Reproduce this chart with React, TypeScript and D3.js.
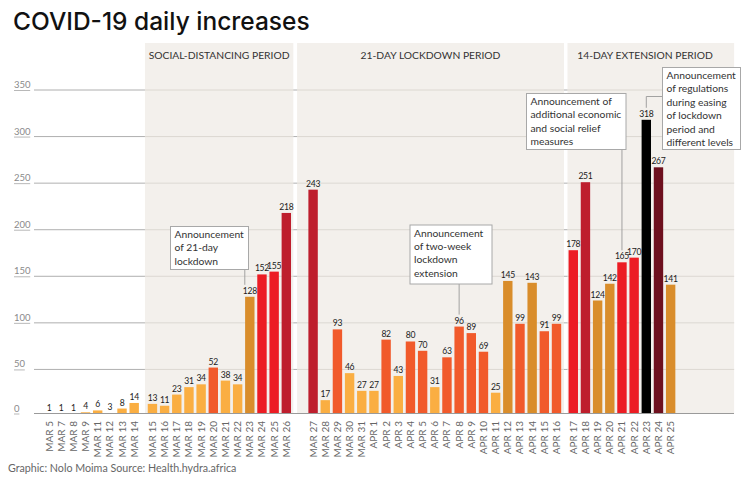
import React from "react";
import * as d3 from "d3";

// ---------- DATA ----------
const dates = [
  "MAR 5", "MAR 7", "MAR 8", "MAR 9", "MAR 11", "MAR 12", "MAR 13", "MAR 14",
  "MAR 15", "MAR 16", "MAR 17", "MAR 18", "MAR 19", "MAR 20", "MAR 21", "MAR 22", "MAR 23", "MAR 24", "MAR 25", "MAR 26",
  "MAR 27", "MAR 28", "MAR 29", "MAR 30", "MAR 31", "APR 1", "APR 2", "APR 3", "APR 4", "APR 5", "APR 6", "APR 7", "APR 8",
  "APR 9", "APR 10", "APR 11", "APR 12", "APR 13", "APR 14", "APR 15", "APR 16",
  "APR 17", "APR 18", "APR 19", "APR 20", "APR 21", "APR 22", "APR 23", "APR 24", "APR 25",
];
const increases = [
  1, 1, 1, 4, 6, 3, 8, 14,
  13, 11, 23, 31, 34, 52, 38, 34, 128, 152, 155, 218,
  243, 17, 93, 46, 27, 27, 82, 43, 80, 70, 31, 63, 96, 89, 69, 25, 145, 99, 143, 91, 99,
  178, 251, 124, 142, 165, 170, 318, 267, 141,
];
const periodNames = ["SOCIAL-DISTANCING PERIOD", "21-DAY LOCKDOWN PERIOD", "14-DAY EXTENSION PERIOD"];
const periodFirst = ["MAR 15", "MAR 27", "APR 17"];
const periodLast = ["MAR 26", "APR 16", "APR 25"];
const yTicks = [0, 50, 100, 150, 200, 250, 300, 350];
const colorBreaks = [50, 100, 150, 200, 260, 300];
const annotationDates = ["MAR 23", "APR 8", "APR 21", "APR 23"];
const annotationLines = [
  ["Announcement", "of 21-day", "lockdown"],
  ["Announcement", "of two-week", "lockdown", "extension"],
  ["Announcement of", "additional economic", "and social relief", "measures"],
  ["Announcement", "of regulations", "during easing", "of lockdown", "period and", "different levels"],
];
const title = "COVID-19 daily increases";
const footer = "Graphic: Nolo Moima Source: Health.hydra.africa";

// ---------- LAYOUT / STYLE ----------
const W = 750, H = 482;
const FONT = "Lato, 'Noto Sans', sans-serif";
const barColors = ["#FAAE42", "#F15A2B", "#D98D2B", "#EC1C24", "#BE1E2D", "#6E101E", "#000000"];
const groupGap = [0, 0.5, 1.7, 2.08];
const panelPad = [[7.5, 7], [16, 7.5], [5.8, 63.5]];
const panelTop = 43;
const axisY = 413.5;
const gridLeft = 34;
const gridRight = 734;
const barW = 9.4;
const annBoxes = [
  { x: 170.5, y: 226.5, w: 78, h: 43, lx: -5 },
  { x: 410, y: 225, w: 82, h: 59, lx: 0 },
  { x: 526.5, y: 93.5, w: 99.5, h: 56, lx: 0 },
  { x: 662.5, y: 67.5, w: 78, h: 82, lx: 0 },
];

export default function App() {
  const periodStartIdx = periodFirst.map((d) => dates.indexOf(d));
  const groupOf = (i: number) => periodStartIdx.filter((s) => i >= s).length;
  const slots = dates.map((_, i) => i + groupGap[groupOf(i)]);
  const maxSlot = d3.max(slots) as number;

  const x = d3.scaleLinear().domain([0, maxSlot]).range([49, 49 + maxSlot * 12.17]);
  const y = d3.scaleLinear().domain([0, 350]).range([416, 90]);
  const color = d3.scaleThreshold<number, string>().domain(colorBreaks).range(barColors);

  const xOf = (d: string) => x(slots[dates.indexOf(d)]);

  const panels = periodNames.map((name, k) => {
    const l = xOf(periodFirst[k]) - panelPad[k][0];
    const r = xOf(periodLast[k]) + panelPad[k][1];
    return { name, l, r };
  });

  const headerCx = [panels[0].l + (panels[0].r - panels[0].l) / 2, panels[1].l + (panels[1].r - panels[1].l) / 2, 645];

  return (
    <svg width={W} height={H} style={{ position: "absolute", left: 0, top: 0, background: "#fff" }} fontFamily={FONT}>
      <rect x={0} y={0} width={W} height={H} fill="#fff" />
      <text x={13} y={30} fontSize={24.5} fontWeight={500} fill="#111" fontFamily="Inter, Lato, sans-serif">{title}</text>

      {yTicks.filter((t) => t > 0).map((t) => (
        <line key={"g" + t} x1={gridLeft} x2={gridRight} y1={y(t)} y2={y(t)} stroke="#9a9a9a" strokeWidth={0.8} />
      ))}

      {panels.map((p, k) => (
        <rect key={"p" + k} x={p.l} y={panelTop} width={p.r - p.l} height={axisY - panelTop} fill="#F3F0EC" />
      ))}
      {panels.map((p, k) =>
        yTicks.filter((t) => t > 0).map((t) => (
          <line key={"pg" + k + t} x1={p.l} x2={p.r} y1={y(t)} y2={y(t)} stroke="#D6D2CC" strokeWidth={0.8} />
        ))
      )}
      {panels.map((p, k) => (
        <text key={"ph" + k} x={headerCx[k]} y={59} textAnchor="middle" fontSize={10.3} fill="#333">{p.name}</text>
      ))}

      {yTicks.map((t) => {
        const yy = t === 0 ? axisY : y(t);
        const label = String(t);
        return (
          <g key={"yt" + t}>
            <text x={14} y={yy - 2} fontSize={9.5} fill="#8a8a8a">{label}</text>
            <line x1={14} x2={14 + label.length * 5.4} y1={yy + 0.5} y2={yy + 0.5} stroke="#9a9a9a" strokeWidth={0.7} />
          </g>
        );
      })}

      {increases.map((v, i) => {
        const cx = x(slots[i]);
        const top = Math.min(y(v), axisY);
        return (
          <g key={"b" + i}>
            <rect x={cx - barW / 2} y={top} width={barW} height={axisY - top} fill={color(v)} />
            <text x={cx} y={top - 3} textAnchor="middle" fontSize={8.6} letterSpacing={-0.3} fill="#1a1a1a">{v}</text>
          </g>
        );
      })}

      <line x1={gridLeft} x2={gridRight} y1={axisY} y2={axisY} stroke="#9a9a9a" strokeWidth={1} />

      {dates.map((d, i) => (
        <text
          key={"xl" + i}
          transform={`translate(${x(slots[i])},421) rotate(-90)`}
          textAnchor="end"
          dy="0.35em"
          fontSize={10}
          fill="#666"
        >
          {d}
        </text>
      ))}

      {annotationDates.map((d, k) => {
        const b = annBoxes[k];
        const i = dates.indexOf(d);
        const v = increases[i];
        const bx = x(slots[i]) + b.lx;
        const labelTop = y(v) - 3 - 9;
        const lines = annotationLines[k];
        let leader;
        if (k === 3) {
          const ly = b.y + 29;
          leader = <path d={`M${b.x},${ly}H${bx}V${labelTop}`} fill="none" stroke="#999" strokeWidth={0.9} />;
        } else {
          leader = <line x1={bx} x2={bx} y1={b.y + b.h} y2={labelTop} stroke="#999" strokeWidth={0.9} />;
        }
        return (
          <g key={"a" + k}>
            {leader}
            <rect x={b.x} y={b.y} width={b.w} height={b.h} fill="#fff" stroke="#A8A8A8" strokeWidth={1} />
            {lines.map((ln, j) => (
              <text key={j} x={b.x + 4} y={b.y + 11.5 + j * 13.4} fontSize={10.3} fill="#333">{ln}</text>
            ))}
          </g>
        );
      })}

      <text x={8} y={472} fontSize={10.7} fill="#666">{footer}</text>
    </svg>
  );
}
